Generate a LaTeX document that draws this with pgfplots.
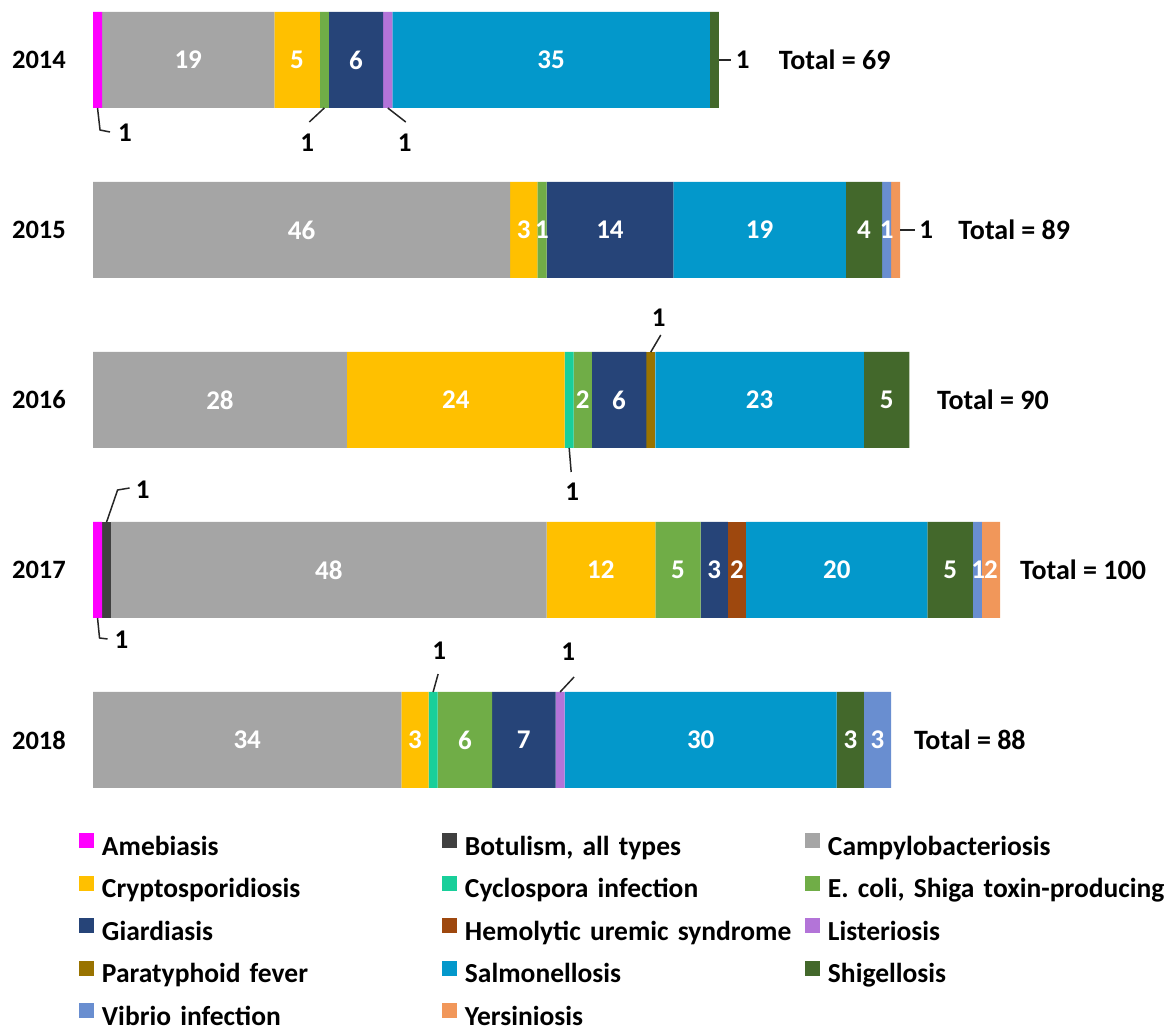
\documentclass[border=0pt]{standalone}
\usepackage{fontspec}
\setmainfont{Carlito}
\usepackage{pgfplots}
\usepackage{pgfplotstable}
\pgfplotsset{compat=1.18}
\definecolor{cAmeb}{HTML}{FF00FF}
\definecolor{cBotu}{HTML}{404040}
\definecolor{cCampy}{HTML}{A5A5A5}
\definecolor{cCrypto}{HTML}{FFC000}
\definecolor{cCyclo}{HTML}{19CF9A}
\definecolor{cEcoli}{HTML}{70AD47}
\definecolor{cGiard}{HTML}{264478}
\definecolor{cHUS}{HTML}{9E480E}
\definecolor{cLister}{HTML}{B374D8}
\definecolor{cParaty}{HTML}{997300}
\definecolor{cSalmo}{HTML}{0398CB}
\definecolor{cShig}{HTML}{43682B}
\definecolor{cVibrio}{HTML}{698ED0}
\definecolor{cYers}{HTML}{F1975A}
\newcommand{\yrfont}{\fontsize{26.5pt}{31pt}\selectfont\bfseries}
\newcommand{\segfont}{\fontsize{27pt}{32pt}\selectfont\bfseries}
\newcommand{\totfont}{\fontsize{28pt}{33pt}\selectfont\bfseries}
\newcommand{\legfont}{\fontsize{27.5pt}{32pt}\selectfont\bfseries}

\pgfplotstableread{
idx Ameb Botu Campy Crypto Cyclo Ecoli Giard HUS Lister Paraty Salmo Shig Vibrio Yers
0   1    0    19    5      0     1     6     0   1      0      35    1    0      0
1   0    0    46    3      0     1     14    0   0      0      19    4    1      1
2   0    0    28    24     1     2     6     0   0      1      23    5    0      0
3   1    1    48    12     0     5     3     2   0      0      20    5    1      2
4   0    0    34    3      1     6     7     0   1      0      30    3    3      0
}\datatable

\tikzset{seglab/.style={font=\segfont, text=white, inner sep=0pt},
  totlab/.style={font=\totfont, anchor=west, inner sep=0pt},
  callab/.style={font=\segfont, text=black, inner sep=0pt},
  leader/.style={line width=1.5pt, draw=black!85}}

\begin{document}
\begin{tikzpicture}
\begin{axis}[
  name=ax,
  set layers,
  every axis plot/.append style={on layer=pre main},
  xbar stacked,
  scale only axis,
  width=907pt, height=850pt,
  xmin=0, xmax=100,
  ymin=-0.5, ymax=4.5,
  y dir=reverse,
  bar width=96pt,
  clip=false,
  axis line style={draw=none},
  major tick length=0pt,
  xtick=\empty,
  ytick={0,1,2,3,4},
  yticklabels={2014,2015,2016,2017,2018},
  yticklabel style={font=\yrfont, inner sep=0pt, xshift=-27pt},
  legend columns=3,
  legend style={at={(axis description cs:-0.01544,-0.0099)}, anchor=north west,
    draw=none, fill=none, inner sep=0pt, outer sep=0pt, font=\legfont,
    row sep=14.5pt, nodes={inner sep=0pt, text height=18pt, text depth=6pt, text width=340pt, align=left}},
  legend image code/.code={\fill[#1] (0pt,1pt) rectangle (15pt,16pt); \path (23pt,0pt);},
]
\addplot[fill=cAmeb, draw=none] table[x=Ameb, y=idx]{\datatable};
\addlegendentry{Amebiasis}
\addplot[fill=cBotu, draw=none] table[x=Botu, y=idx]{\datatable};
\addlegendentry{Botulism, all types}
\addplot[fill=cCampy, draw=none] table[x=Campy, y=idx]{\datatable};
\addlegendentry{Campylobacteriosis}
\addplot[fill=cCrypto, draw=none] table[x=Crypto, y=idx]{\datatable};
\addlegendentry{Cryptosporidiosis}
\addplot[fill=cCyclo, draw=none] table[x=Cyclo, y=idx]{\datatable};
\addlegendentry{Cyclospora infection}
\addplot[fill=cEcoli, draw=none] table[x=Ecoli, y=idx]{\datatable};
\addlegendentry{E. coli, Shiga toxin-producing}
\addplot[fill=cGiard, draw=none] table[x=Giard, y=idx]{\datatable};
\addlegendentry{Giardiasis}
\addplot[fill=cHUS, draw=none] table[x=HUS, y=idx]{\datatable};
\addlegendentry{Hemolytic uremic syndrome}
\addplot[fill=cLister, draw=none] table[x=Lister, y=idx]{\datatable};
\addlegendentry{Listeriosis}
\addplot[fill=cParaty, draw=none] table[x=Paraty, y=idx]{\datatable};
\addlegendentry{Paratyphoid fever}
\addplot[fill=cSalmo, draw=none] table[x=Salmo, y=idx]{\datatable};
\addlegendentry{Salmonellosis}
\addplot[fill=cShig, draw=none] table[x=Shig, y=idx]{\datatable};
\addlegendentry{Shigellosis}
\addplot[fill=cVibrio, draw=none] table[x=Vibrio, y=idx]{\datatable};
\addlegendentry{Vibrio infection}
\addplot[fill=cYers, draw=none] table[x=Yers, y=idx]{\datatable};
\addlegendentry{Yersiniosis}

% segment labels
\node[seglab] at (axis cs:10.5,0) {19};
\node[seglab] at (axis cs:22.5,0) {5};
\node[seglab] at (axis cs:29,0) {6};
\node[seglab] at (axis cs:50.5,0) {35};
\node[seglab] at (axis cs:23,1) {46};
\node[seglab] at (axis cs:47.5,1) {3};
\node[seglab] at (axis cs:49.5,1) {1};
\node[seglab] at (axis cs:57,1) {14};
\node[seglab] at (axis cs:73.5,1) {19};
\node[seglab] at (axis cs:85,1) {4};
\node[seglab] at (axis cs:87.5,1) {1};
\node[seglab] at (axis cs:14,2) {28};
\node[seglab] at (axis cs:40,2) {24};
\node[seglab] at (axis cs:54,2) {2};
\node[seglab] at (axis cs:58,2) {6};
\node[seglab] at (axis cs:73.5,2) {23};
\node[seglab] at (axis cs:87.5,2) {5};
\node[seglab] at (axis cs:26,3) {48};
\node[seglab] at (axis cs:56,3) {12};
\node[seglab] at (axis cs:64.5,3) {5};
\node[seglab] at (axis cs:68.5,3) {3};
\node[seglab] at (axis cs:71,3) {2};
\node[seglab] at (axis cs:82,3) {20};
\node[seglab] at (axis cs:94.5,3) {5};
\node[seglab] at (axis cs:97.6,3) {1};
\node[seglab] at (axis cs:99,3) {2};
\node[seglab] at (axis cs:17,4) {34};
\node[seglab] at (axis cs:35.5,4) {3};
\node[seglab] at (axis cs:41,4) {6};
\node[seglab] at (axis cs:47.5,4) {7};
\node[seglab] at (axis cs:67,4) {30};
\node[seglab] at (axis cs:83.5,4) {3};
\node[seglab] at (axis cs:86.5,4) {3};

% totals
\node[totlab] at (axis cs:75.6,0) {Total = 69};
\node[totlab] at (axis cs:95.4,1) {Total = 89};
\node[totlab] at (axis cs:93.05,2) {Total = 90};
\node[totlab] at (axis cs:102.2,3) {Total = 100};
\node[totlab] at (axis cs:90.5,4) {Total = 88};

% callouts
\draw[leader] (axis cs:0.5,0) ++(0pt,-48pt) -- ++(2.5pt,-22pt) -- ++(10pt,-2pt) ++(15pt,-1pt) node[callab] {1};
\draw[leader] (axis cs:25.5,0) ++(0pt,-48pt) -- ++(-15pt,-14pt) ++(-2pt,-21pt) node[callab] {1};
\draw[leader] (axis cs:32.5,0) ++(0pt,-48pt) -- ++(18pt,-14pt) ++(-1pt,-21pt) node[callab] {1};
\draw[leader] (axis cs:69,0) -- ++(12pt,0pt) ++(12pt,0pt) node[callab] {1};
\draw[leader] (axis cs:89,1) -- ++(15pt,0pt) ++(11pt,0pt) node[callab] {1};
\draw[leader] (axis cs:52.5,2) ++(0pt,-48pt) -- ++(2pt,-24pt) ++(1pt,-20pt) node[callab] {1};
\draw[leader] (axis cs:61.5,2) ++(0pt,48pt) -- ++(10pt,17pt) ++(-2pt,17pt) node[callab] {1};
\draw[leader] (axis cs:0.5,3) ++(0pt,-48pt) -- ++(2pt,-20pt) -- ++(8pt,-1pt) ++(14pt,-1pt) node[callab] {1};
\draw[leader] (axis cs:1.5,3) ++(0pt,48pt) -- ++(11pt,32pt) -- ++(12pt,2pt) ++(13pt,-2pt) node[callab] {1};
\draw[leader] (axis cs:37.5,4) ++(0pt,48pt) -- ++(5pt,18pt) ++(1pt,23pt) node[callab] {1};
\draw[leader] (axis cs:51.5,4) ++(0pt,48pt) -- ++(14pt,15pt) ++(-6pt,25pt) node[callab] {1};
\end{axis}
\pgfresetboundingbox
\path[use as bounding box] ([shift={(-93pt,-25pt)}]ax.north west) rectangle ([shift={(1072pt,-1056pt)}]ax.north west);
\end{tikzpicture}
\end{document}
